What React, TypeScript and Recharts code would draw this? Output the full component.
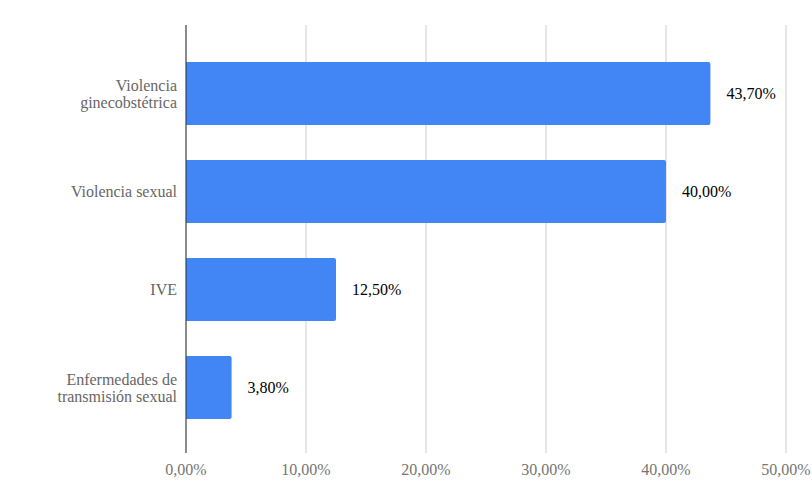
import React from 'react';
import { BarChart, Bar, XAxis, YAxis, CartesianGrid, LabelList } from 'recharts';

const categories = [
  'Violencia ginecobstétrica',
  'Violencia sexual',
  'IVE',
  'Enfermedades de transmisión sexual',
];
const values = [43.7, 40.0, 12.5, 3.8];
const xTicks = [0, 10, 20, 30, 40, 50];

const data = categories.map((name, i) => ({ name, value: values[i] }));

const FONT = "'Liberation Serif', 'Times New Roman', Times, 'DejaVu Serif', serif";
const pct = (v: number) => v.toFixed(2).replace('.', ',') + '%';

// greedy wrap so long category names break onto two lines
const wrap = (s: string, max = 18) => {
  const lines: string[] = [];
  let cur = '';
  s.split(' ').forEach((w) => {
    const next = cur ? cur + ' ' + w : w;
    if (next.length > max && cur) {
      lines.push(cur);
      cur = w;
    } else cur = next;
  });
  if (cur) lines.push(cur);
  return lines;
};

const CategoryTick = (props: any) => {
  const { x, y, payload } = props;
  const lines = wrap(payload.value);
  const lh = 17;
  const start = -((lines.length - 1) * lh) / 2;
  return (
    <text
      x={x}
      y={y}
      textAnchor="end"
      fill="#666"
      fontSize={16}
      style={{ fontFamily: FONT }}
      dominantBaseline="central"
    >
      {lines.map((l, i) => (
        <tspan key={i} x={x} dy={i === 0 ? start : lh}>
          {l}
        </tspan>
      ))}
    </text>
  );
};

const App: React.FC = () => {
  return (
    <div style={{ position: 'absolute', left: 0, top: 0, background: '#fff', fontFamily: FONT }}>
      <style>{`svg text { font-family: ${FONT} !important; }`}</style>
      <BarChart
        width={812}
        height={504}
        layout="vertical"
        data={data}
        margin={{ top: 25, right: 26, bottom: 0, left: 0 }}
      >
        <CartesianGrid horizontal={false} stroke="#cccccc" />
        <XAxis
          type="number"
          domain={[0, 50]}
          ticks={xTicks}
          tickFormatter={pct}
          axisLine={false}
          tickLine={false}
          tickSize={0}
          tickMargin={11}
          height={51}
          tick={{ fill: '#757575', fontSize: 16 }}
        />
        <YAxis
          type="category"
          dataKey="name"
          width={186}
          axisLine={{ stroke: '#333333' }}
          tickLine={false}
          tickSize={0}
          tickMargin={9}
          padding={{ top: 19, bottom: 17 }}
          tick={<CategoryTick />}
        />
        <Bar dataKey="value" fill="#4285f4" barSize={63} radius={[0, 2, 2, 0]} isAnimationActive={false}>
          <LabelList
            dataKey="value"
            position="right"
            offset={16}
            formatter={(v: any) => pct(Number(v))}
            fill="#000"
            fontSize={16}
          />
        </Bar>
      </BarChart>
    </div>
  );
};

export default App;
